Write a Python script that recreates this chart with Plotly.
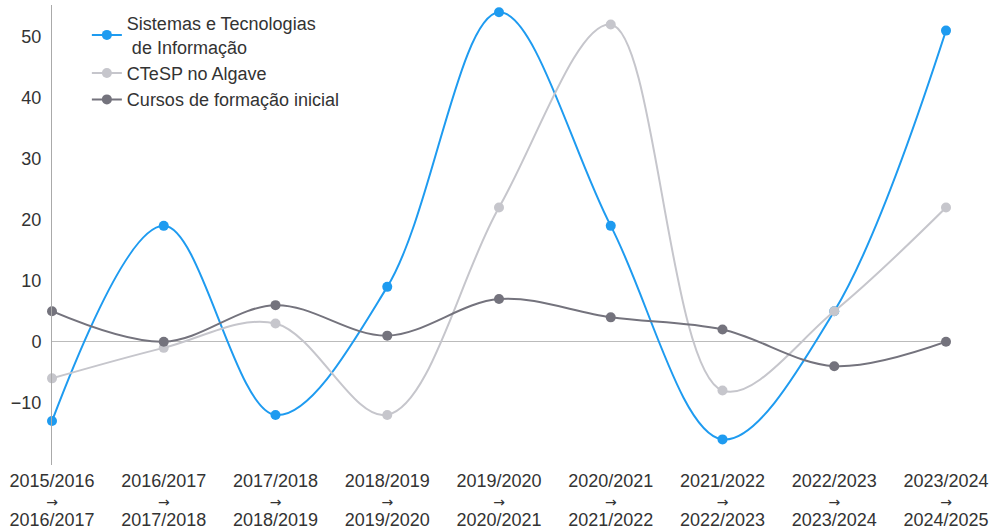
import plotly.graph_objects as go

periods = [("2015/2016", "2016/2017"), ("2016/2017", "2017/2018"), ("2017/2018", "2018/2019"),
           ("2018/2019", "2019/2020"), ("2019/2020", "2020/2021"), ("2020/2021", "2021/2022"),
           ("2021/2022", "2022/2023"), ("2022/2023", "2023/2024"), ("2023/2024", "2024/2025")]
sistemas = [-13, 19, -12, 9, 54, 19, -16, 5, 51]
ctesp = [-6, -1, 3, -12, 22, 52, -8, 5, 22]
cursos = [5, 0, 6, 1, 7, 4, 2, -4, 0]
y_ticks = [-10, 0, 10, 20, 30, 40, 50]

BIG = "<span style='font-size:18px'>{}</span>"
ARROW = "<span style='font-family:DejaVu Sans;font-size:14px'>→</span>"
categories = [f"{BIG.format(a)}<br>{ARROW}<br>{BIG.format(b)}" for a, b in periods]

series = [
    ("Sistemas e Tecnologias<br> de Informação", sistemas, "#1e9bf0"),
    ("CTeSP no Algave", ctesp, "#c6c6cc"),
    ("Cursos de formação inicial", cursos, "#74737d"),
]

fig = go.Figure()
for name, vals, color in series:
    fig.add_trace(go.Scatter(
        x=categories, y=vals, name=name, mode="lines+markers",
        line=dict(color=color, width=2, shape="spline", smoothing=1),
        marker=dict(color=color, size=10),
        cliponaxis=False,
    ))

fig.update_layout(
    width=990, height=529,
    margin=dict(l=52, r=44, t=5, b=64),
    plot_bgcolor="white", paper_bgcolor="white",
    font=dict(family="Liberation Sans, Arial, sans-serif", size=18, color="#333333"),
    showlegend=True,
    legend=dict(x=0.039, y=1.0, xanchor="left", yanchor="top", bgcolor="rgba(0,0,0,0)",
                font=dict(size=18, color="#333333"), tracegroupgap=0),
    xaxis=dict(type="category", range=[0, 8], showgrid=False, showline=False, ticks="",
               automargin=False, ticklabelstandoff=6, tickfont=dict(size=15, color="#333333")),
    yaxis=dict(range=[-20.2, 55.2], tickvals=y_ticks, showgrid=False, showline=True, linecolor="#aaaaaa",
               linewidth=1, zeroline=True, zerolinecolor="#bbbbbb", zerolinewidth=1, ticks="",
               automargin=False, ticklabelstandoff=6, tickfont=dict(size=18, color="#333333")),
)

fig.write_html("out.html", config={"displayModeBar": False},
               post_script="document.body.style.margin='0';")
